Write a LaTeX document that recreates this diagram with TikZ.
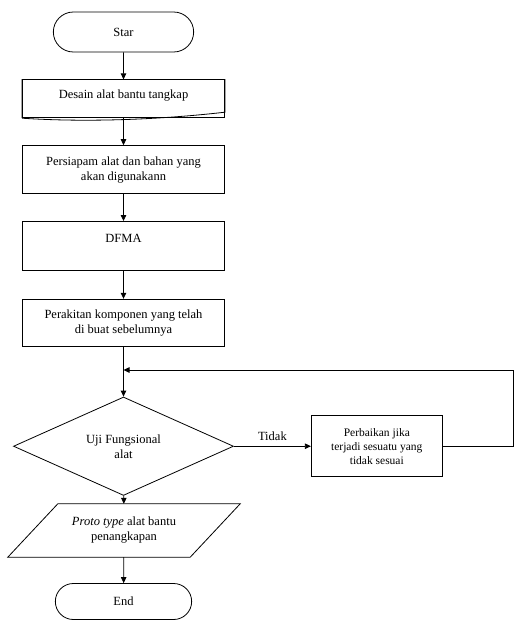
\documentclass[tikz,border=0pt]{standalone}
\usepackage{fontspec}
\setmainfont{Liberation Serif}
\usetikzlibrary{positioning, arrows.meta, shapes.geometric, shapes.misc}

\begin{document}
\begin{tikzpicture}[
  x=1pt, y=1pt,
  font=\fontsize{12.5}{15}\selectfont,
  node distance=27pt and 77pt,
  every node/.style={align=center},
  terminal/.style={draw, rounded rectangle, minimum height=40pt,
                   minimum width=147pt, thick},
  process/.style={draw, rectangle, minimum width=202pt, thick},
  decision/.style={draw, diamond, minimum width=220pt, minimum height=82pt,
                   inner sep=0pt, thick},
  io/.style={rectangle, minimum width=182pt, minimum height=53pt, inner sep=0pt},
  arrow/.style={-{Triangle[length=6pt, width=5.5pt]}, thick}
]
\useasboundingbox (0,0) rectangle (515,-621);

\node[terminal] (start) at (123.5,-32) {Star};
\node[process, minimum height=38pt, below=of start] (desain) {};
\draw[thick] (desain.south west) -- (desain.north west) -- (desain.north east)
  -- ([yshift=6pt]desain.south east)
  .. controls ([xshift=-70pt, yshift=-2pt]desain.south east)
  and ([xshift=60pt, yshift=-4pt]desain.south west) .. (desain.south west);
\node at ([yshift=3pt]desain.center) {Desain alat bantu tangkap};
\node[process, minimum height=48pt, below=of desain] (siap)
  {Persiapam alat dan bahan yang\\akan digunakann};
\node[process, minimum height=49pt, below=of siap] (dfma) {DFMA\\\mbox{}};
\node[process, minimum height=47pt, below=28pt of dfma] (rakit)
  {Perakitan komponen yang telah\\di buat sebelumnya};
\node[decision, below=50pt of rakit] (uji) {Uji Fungsional\\alat};
\node[process, font=\fontsize{11.5}{14}\selectfont, minimum width=131pt,
      minimum height=61pt, right=of uji] (perbaikan)
  {Perbaikan jika\\terjadi sesuatu yang\\tidak sesuai};
\node[io] (proto) at (124,-530.5) {\textit{Proto type} alat bantu\\penangkapan};
\draw[thick] ([xshift=25pt]proto.north west) -- ([xshift=25pt]proto.north east)
  -- ([xshift=-25pt]proto.south east) -- ([xshift=-25pt]proto.south west) -- cycle;
\node[terminal, minimum width=143pt, minimum height=36pt] (end) at (123.5,-601.5) {End};

\coordinate (kanan) at (513.5,-433.5);
\coordinate (atas) at (513.5,-370);

\draw[arrow] (start) -- (desain);
\draw[arrow] (desain) -- (siap);
\draw[arrow] (siap) -- (dfma);
\draw[arrow] (dfma) -- (rakit);
\draw[arrow] (rakit) -- (uji);
\draw[arrow] (uji) -- node[above=2pt] {Tidak} (perbaikan);
\draw[thick] (perbaikan) -- (kanan |- perbaikan) -- (atas);
\draw[arrow] (atas) -- (atas -| rakit.south);
\draw[arrow] (uji) -- (proto);
\draw[arrow] (proto) -- (end);

\end{tikzpicture}
\end{document}
